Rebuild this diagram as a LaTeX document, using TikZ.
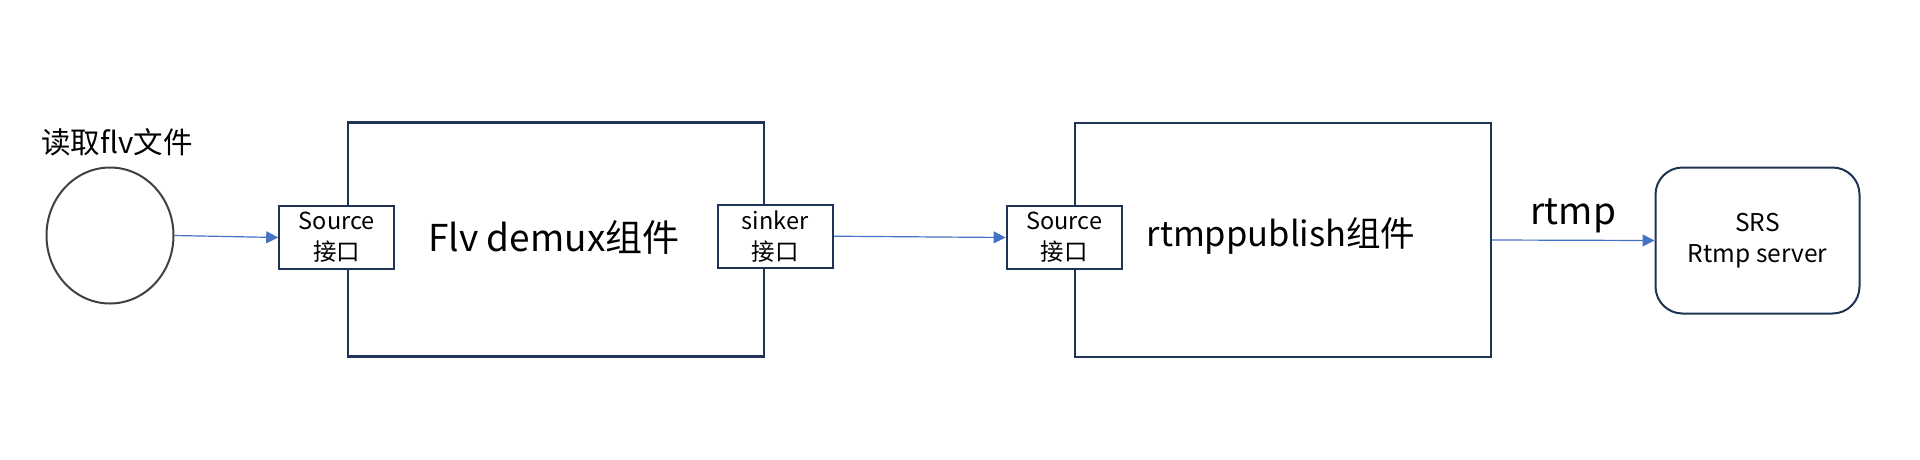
\documentclass[tikz,border=0pt]{standalone}
\usepackage{fontspec}
\setmainfont{Noto Sans CJK SC}
\usetikzlibrary{arrows.meta,shapes.geometric}
\definecolor{navy}{HTML}{1F3354}
\definecolor{circgray}{HTML}{404040}
\definecolor{arrowblue}{HTML}{4472C4}
\tikzset{
  bigbox/.style={draw=navy, line width=2.2pt, fill=white, minimum width=416pt, minimum height=234pt, inner sep=0pt},
  portbox/.style={draw=navy, line width=2.2pt, fill=white, minimum width=115pt, minimum height=63pt, inner sep=0pt, align=center, font=\fontsize{23.5}{31}\selectfont},
  flow/.style={draw=arrowblue, line width=1.2pt, -{Triangle[length=12pt,width=12pt]}},
}
\begin{document}
\begin{tikzpicture}[x=1pt,y=-1pt]
\useasboundingbox (0,0) rectangle (1920,459);
% source circle
\node[draw=circgray, line width=2pt, ellipse, minimum width=127pt, minimum height=136pt, inner sep=0pt] (circ) at (110,235.5) {};
\node[font=\fontsize{29.5}{32}\selectfont, inner sep=0pt] (circlabel) at (117,142) {读取flv文件};
% big boxes
\node[bigbox] (demux) at (556,239.5) {};
\node[bigbox] (pub) at (1283,240) {};
% ports
\node[portbox] (src1) at (336.8,237.5) {Source\\接口};
\node[portbox] (sink) at (775.2,236.2) {sinker\\接口};
\node[portbox] (src2) at (1064.2,237.5) {Source\\接口};
% labels
\node[font=\fontsize{37}{40}\selectfont, inner sep=0pt] (demuxlabel) at (554,237) {Flv demux组件};
\node[font=\fontsize{34.5}{40}\selectfont, inner sep=0pt] (publabel) at (1281,236) {rtmppublish组件};
% server
\node[draw=navy, line width=2pt, rounded corners=27pt, minimum width=204pt, minimum height=146pt, inner sep=0pt, align=center, font=\fontsize{24.5}{31}\selectfont, fill=white] (srs) at (1757.5,240.5) {SRS\\Rtmp server};
% connectors
\draw[flow] (circ.east) -- (src1.west);
\draw[flow] (sink.east) -- (src2.west);
\draw[flow] (pub.east) -- (srs.west) node[midway, above=7pt, font=\fontsize{37}{40}\selectfont, inner sep=0pt] (rtmplabel) {rtmp};
\end{tikzpicture}
\end{document}
